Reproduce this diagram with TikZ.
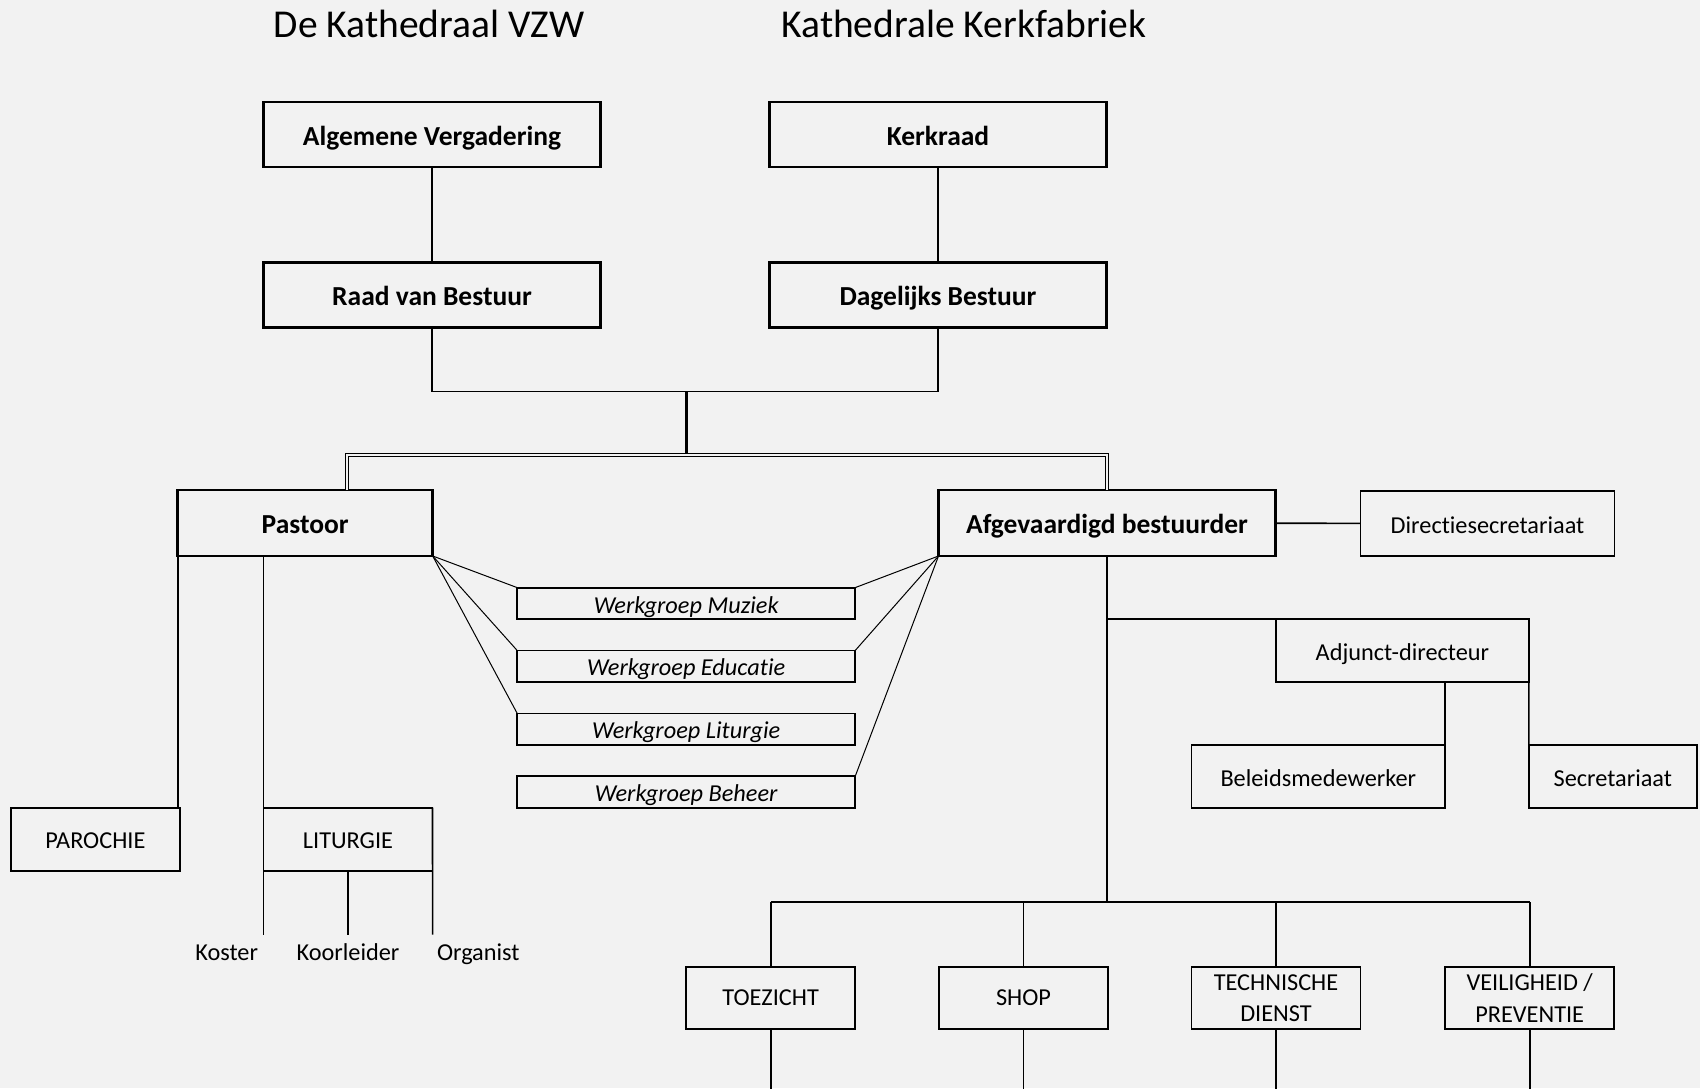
\documentclass[tikz,border=0pt]{standalone}
\usepackage{fontspec}
\setmainfont{Carlito}[Ligatures=CommonOff]
\begin{document}
\begin{tikzpicture}[x=1pt,y=-1pt,
  every node/.style={inner sep=0pt, outer sep=0pt, text=black},
  tit/.style={anchor=base, font=\fontsize{39.5}{46}\selectfont},
  bigbox/.style={draw, line width=2.7pt, minimum height=65pt,
     font=\bfseries\fontsize{27.5}{33}\selectfont, text height=21.5pt, text depth=0pt},
  box/.style={draw, line width=1.8pt, minimum height=63pt,
     font=\fontsize{24.3}{31}\selectfont, text height=19.5pt, text depth=0pt},
  box2/.style={draw, line width=1.8pt, minimum height=62pt, align=center,
     font=\fontsize{24.3}{31.4}\selectfont},
  wg/.style={draw, line width=1.8pt, minimum width=338pt, minimum height=31.4pt,
     font=\itshape\fontsize{24.3}{29}\selectfont, text height=19.5pt, text depth=0pt},
  lbl/.style={font=\fontsize{24.3}{29}\selectfont},
  con/.style={line width=1.6pt},
  thin/.style={line width=1pt},
  dbl/.style={line width=1.1pt, double=bg, double distance=2.6pt},
]
\definecolor{bg}{HTML}{F2F2F2}
\useasboundingbox (0,0) rectangle (1700,1088);
\fill[bg] (0,0) rectangle (1700,1088);

% titles
\node[tit] (t1) at (429,37) {De Kathedraal VZW};
\node[tit] (t2) at (964,37) {Kathedrale Kerkfabriek};

% top boxes
\node[bigbox, minimum width=337pt] (av)  at (432,134.5) {Algemene Vergadering};
\node[bigbox, minimum width=337pt] (kr)  at (938,134.5) {Kerkraad};
\node[bigbox, minimum width=337pt] (rvb) at (432,295) {Raad van Bestuur};
\node[bigbox, minimum width=337pt] (db)  at (938,295) {Dagelijks Bestuur};

% second level
\node[bigbox, minimum width=255pt, minimum height=66pt] (pas) at (305.2,523) {Pastoor};
\node[bigbox, minimum width=337pt, minimum height=66pt] (afg) at (1107,523) {Afgevaardigd bestuurder};
\node[box, minimum width=254pt, minimum height=65pt] (dir) at (1487.5,523.5) {Directiesecretariaat};

% werkgroepen
\node[wg] (wg1) at (686.2,603.3) {Werkgroep Muziek};
\node[wg] (wg2) at (686.2,666.2) {Werkgroep Educatie};
\node[wg] (wg3) at (686.2,729.1) {Werkgroep Liturgie};
\node[wg] (wg4) at (686.2,792.0) {Werkgroep Beheer};

% pastoor children
\node[box, minimum width=169pt] (par) at (95.4,839.2) {PAROCHIE};
\node[box, minimum width=169pt] (lit) at (348,839.2) {LITURGIE};
\coordinate (kE) at (263.5,934.6);
\coordinate (kmE) at (348,934.6);
\coordinate (oE) at (432.6,934.6);
\node[lbl, anchor=base east] (kos) at (258,960) {Koster};
\node[lbl, anchor=base] (koo) at (348,960) {Koorleider};
\node[lbl, anchor=base west] (org) at (437,960) {Organist};

% right side
\node[box, minimum width=253pt] (adj) at (1402.4,650.5) {Adjunct-directeur};
\node[box, minimum width=253.5pt] (bel) at (1318.3,776.4) {Beleidsmedewerker};
\node[box, minimum width=168pt] (sec) at (1612.8,776.4) {Secretariaat};

\node[box2, minimum width=169pt] (toe) at (770.7,998) {TOEZICHT};
\node[box2, minimum width=169pt] (shop) at (1023.5,998) {SHOP};
\node[box2, minimum width=169pt] (tech) at (1276,998) {TECHNISCHE\\DIENST};
\node[box2, minimum width=169pt] (veil) at (1529.7,998) {VEILIGHEID /\\PREVENTIE};

% coordinates
\coordinate (j1) at (686,391.4);
\coordinate (j2) at (686,455);
\coordinate (dl) at (347,455);
\coordinate (dr) at (1107,455);
\coordinate (bus) at (1107,902);
\foreach \n in {toe,shop,tech,veil}{\coordinate (\n B) at (\n.south |- 0,1090);}

% connectors top
\draw[con] (av) -- (rvb);
\draw[con] (kr) -- (db);
\draw[con] (rvb.south) |- (j1) -| (db.south);
\draw[line width=3pt] (j1) -- (j2);
\draw[dbl] (pas.north -| dl) -- (dl) -- (dr) -- (afg.north);

% werkgroep diagonals
\draw[thin] (pas.south east) -- (wg1.north west);
\draw[thin] (pas.south east) -- (wg2.north west);
\draw[thin] (pas.south east) -- (wg3.north west);
\draw[thin] (afg.south west) -- (wg1.north east);
\draw[thin] (afg.south west) -- (wg2.north east);
\draw[thin] (afg.south west) -- (wg4.north east);

% pastoor children
\draw[con] (pas.south west) -- (pas.south west |- par.north);
\draw[con] (pas.south -| lit.west) -- (kE);
\draw[con] (lit.south) -- (kmE);
\draw[con] (lit.north east) -- (oE);

% afgevaardigd
\draw[con] (afg) -- (dir);
\draw[con] (afg.south) -- (bus);
\draw[con] (afg.south |- adj.north) -- (adj.north west);
\draw[con] (adj.south -| bel.north east) -- (bel.north east);
\draw[con] (adj.south east) -- (sec.north west);
\draw[con] (toe.north |- bus) -- (veil.north |- bus);
\foreach \n in {toe,shop,tech,veil}{
  \draw[con] (\n.north |- bus) -- (\n.north);
  \draw[con] (\n.south) -- (\n B);
}
\end{tikzpicture}
\end{document}
